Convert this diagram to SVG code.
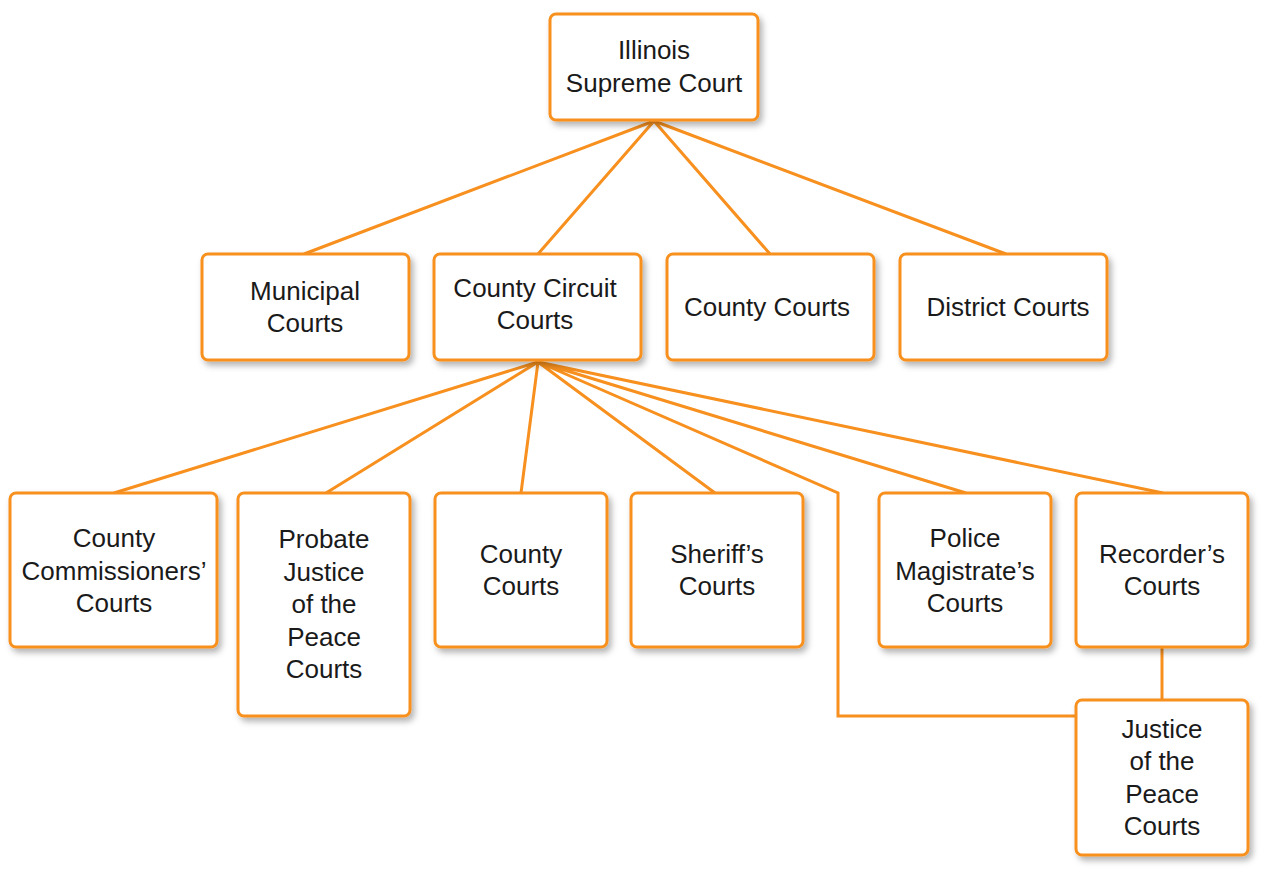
<svg xmlns="http://www.w3.org/2000/svg" width="1275" height="877" viewBox="0 0 1275 877">
<defs>
<filter id="sh" x="-20%" y="-20%" width="140%" height="140%">
<feDropShadow dx="3" dy="4" stdDeviation="3" flood-color="#000" flood-opacity="0.3"/>
</filter>
</defs>
<style>
.box{fill:#fff;stroke:#F7901E;stroke-width:3;filter:url(#sh)}
.c{fill:none;stroke:#F7901E;stroke-width:3}
text{font-family:"Liberation Sans",Arial,sans-serif;font-size:26px;fill:#1a1a1a;text-anchor:middle}
</style>
<rect width="1275" height="877" fill="#fff"/>
<g id="connectors">
<path class="c" d="M654 121L304 254M654 121L538 254M654 121L770 254M654 121L1006 254"/>
<path class="c" d="M538 362L114 493M538 362L326 493M538 362L521 493M538 362L715 493M538 362L838 493L838 716L1076 716M538 362L966 493M538 362L1163 493"/>
<path class="c" d="M1162 647L1162 700"/>
</g>
<g id="n-supreme"><rect class="box" x="550" y="14" width="208" height="106" rx="6"/><text x="654" y="59">Illinois</text><text x="654" y="92">Supreme Court</text></g>
<g id="n-municipal"><rect class="box" x="202" y="254" width="207" height="106" rx="6"/><text x="305" y="300">Municipal</text><text x="305" y="332">Courts</text></g>
<g id="n-circuit"><rect class="box" x="434" y="254" width="207" height="106" rx="6"/><text x="535" y="297">County Circuit</text><text x="535" y="329">Courts</text></g>
<g id="n-county"><rect class="box" x="667" y="254" width="207" height="106" rx="6"/><text x="767" y="316">County Courts</text></g>
<g id="n-district"><rect class="box" x="900" y="254" width="207" height="106" rx="6"/><text x="1008" y="316">District Courts</text></g>
<g id="n-commissioners"><rect class="box" x="10" y="493" width="207" height="154" rx="6"/><text x="114" y="547">County</text><text x="114" y="580">Commissioners’</text><text x="114" y="612">Courts</text></g>
<g id="n-probate"><rect class="box" x="238" y="493" width="172" height="223" rx="6"/><text x="324" y="548">Probate</text><text x="324" y="581">Justice</text><text x="324" y="613">of the</text><text x="324" y="646">Peace</text><text x="324" y="678">Courts</text></g>
<g id="n-county2"><rect class="box" x="435" y="493" width="172" height="154" rx="6"/><text x="521" y="563">County</text><text x="521" y="595">Courts</text></g>
<g id="n-sheriff"><rect class="box" x="631" y="493" width="172" height="154" rx="6"/><text x="717" y="563">Sheriff’s</text><text x="717" y="595">Courts</text></g>
<g id="n-police"><rect class="box" x="879" y="493" width="172" height="154" rx="6"/><text x="965" y="547">Police</text><text x="965" y="580">Magistrate’s</text><text x="965" y="612">Courts</text></g>
<g id="n-recorder"><rect class="box" x="1076" y="493" width="172" height="154" rx="6"/><text x="1162" y="563">Recorder’s</text><text x="1162" y="595">Courts</text></g>
<g id="n-justice"><rect class="box" x="1076" y="700" width="172" height="155" rx="6"/><text x="1162" y="738">Justice</text><text x="1162" y="770">of the</text><text x="1162" y="803">Peace</text><text x="1162" y="835">Courts</text></g>
</svg>
